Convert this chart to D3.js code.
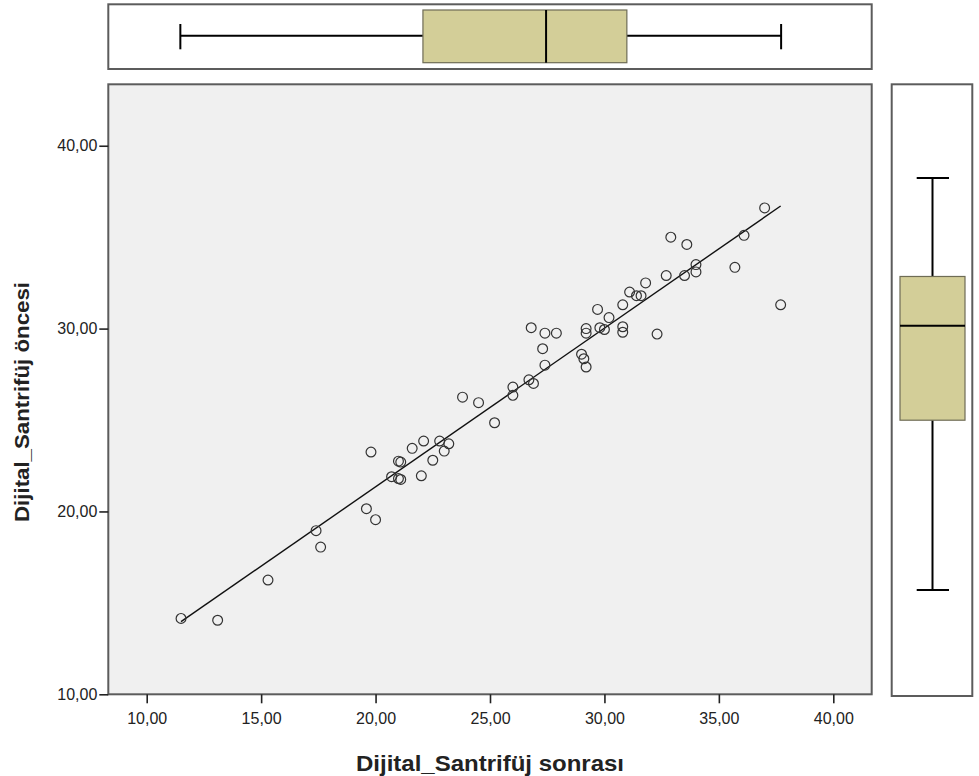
<!DOCTYPE html>
<html>
<head>
<meta charset="utf-8">
<script src="https://cdn.jsdelivr.net/npm/d3@7"></script>
<style>
  body { margin: 0; background: #fff; }
  text { font-family: "Liberation Sans", Arial, sans-serif; fill: #222; }
</style>
</head>
<body>
<svg width="979" height="776"></svg>
<script>
// scatter values
var sonrasi = [37.0, 36.1, 32.9, 33.6, 34.0, 34.0, 33.5, 32.7, 35.7, 37.7,
  31.8, 31.1, 31.4, 31.6, 30.8, 29.7, 30.2, 29.8, 30.0, 29.2,
  29.2, 30.8, 30.8, 32.3, 26.8, 27.4, 27.9, 27.3, 27.4, 29.0,
  29.1, 29.2, 26.7, 26.9, 26.0, 26.0, 11.5, 13.1, 15.3, 17.4,
  17.6, 19.6, 20.0, 19.8, 20.7, 21.0, 21.1, 21.0, 21.1, 21.6,
  22.1, 22.0, 22.5, 22.8, 23.0, 23.2, 23.8, 24.5, 25.2];
var oncesi = [36.6, 35.1, 35.0, 34.6, 33.5, 33.1, 32.9, 32.9, 33.35, 31.3,
  32.5, 32.0, 31.8, 31.8, 31.3, 31.05, 30.6, 30.05, 29.95, 30.0,
  29.75, 30.1, 29.8, 29.7, 30.05, 29.75, 29.75, 28.9, 28.0, 28.6,
  28.35, 27.9, 27.2, 27.0, 26.8, 26.35, 14.15, 14.05, 16.25, 18.95,
  18.05, 20.15, 19.55, 23.25, 21.9, 21.8, 21.75, 22.75, 22.7, 23.45,
  23.85, 21.95, 22.8, 23.85, 23.3, 23.7, 26.25, 25.95, 24.85];

// box plot stats as drawn: [low whisker, q1, median, q3, high whisker]
var boxTop = [11.47, 22.07, 27.45, 30.98, 37.72];
var boxRight = [15.70, 24.99, 30.15, 32.85, 38.23];

var xTicks = [10, 15, 20, 25, 30, 35, 40];
var yTicks = [10, 20, 30, 40];
var xTitle = "Dijital_Santrifüj sonrası";
var yTitle = "Dijital_Santrifüj öncesi";

var svg = d3.select("svg");
var plot = {left: 108.3, right: 871.7, top: 84.3, bottom: 694.3};

var x = d3.scaleLinear().domain([8.322, 41.678]).range([plot.left, plot.right]);
var y = d3.scaleLinear().domain([10, 43.36]).range([plot.bottom, plot.top]);
var fmt = function(d) { return d3.format(".2f")(d).replace(".", ","); };

var frameColor = "#5c5c5c";
var boxFill = "#d3ce98";

// main panel
svg.append("rect")
  .attr("x", plot.left).attr("y", plot.top)
  .attr("width", plot.right - plot.left).attr("height", plot.bottom - plot.top)
  .attr("fill", "#f0f0f0").attr("stroke", frameColor).attr("stroke-width", 2);

var xAxis = svg.append("g")
  .attr("transform", "translate(0," + plot.bottom + ")")
  .call(d3.axisBottom(x).tickValues(xTicks).tickFormat(fmt).tickSize(9).tickPadding(9));
var yAxis = svg.append("g")
  .attr("transform", "translate(" + plot.left + ",0)")
  .call(d3.axisLeft(y).tickValues(yTicks).tickFormat(fmt).tickSize(9).tickPadding(2));
[xAxis, yAxis].forEach(function(a) {
  a.attr("font-size", null);
  a.select(".domain").remove();
  a.selectAll(".tick line").attr("stroke", "#222").attr("stroke-width", 1.6);
  a.selectAll(".tick text").style("font-size", "16px").attr("fill", "#333");
});

svg.append("text")
  .attr("x", (plot.left + plot.right) / 2).attr("y", 771)
  .attr("text-anchor", "middle")
  .attr("textLength", 268).attr("lengthAdjust", "spacingAndGlyphs")
  .style("font-size", "22px").style("font-weight", "bold")
  .text(xTitle);
svg.append("text")
  .attr("transform", "translate(29,402) rotate(-90)")
  .attr("text-anchor", "middle")
  .attr("textLength", 240).attr("lengthAdjust", "spacingAndGlyphs")
  .style("font-size", "21px").style("font-weight", "bold")
  .text(yTitle);

// fit line (least squares from the points)
var pts = sonrasi.map(function(v, i) { return {x: v, y: oncesi[i]}; });
var mx = d3.mean(sonrasi), my = d3.mean(oncesi);
var slope = d3.sum(pts, function(p) { return (p.x - mx) * (p.y - my); }) /
            d3.sum(pts, function(p) { return (p.x - mx) * (p.x - mx); });
var icpt = my - slope * mx;
var ext = d3.extent(sonrasi);
svg.append("path")
  .datum(ext.map(function(v) { return {x: v, y: icpt + slope * v}; }))
  .attr("d", d3.line().x(function(d) { return x(d.x); }).y(function(d) { return y(d.y); }))
  .attr("stroke", "#111").attr("stroke-width", 1.4).attr("fill", "none");

svg.append("g").selectAll("circle")
  .data(pts)
  .enter().append("circle")
  .attr("cx", function(d) { return x(d.x); })
  .attr("cy", function(d) { return y(d.y); })
  .attr("r", 4.9)
  .attr("fill", "none").attr("stroke", "#333").attr("stroke-width", 1.2);

// top box plot (horizontal)
var topPanel = {y0: 4.3, y1: 69, boxY0: 10, boxY1: 62.7};
var midT = 35.7;
svg.append("rect")
  .attr("x", plot.left).attr("y", topPanel.y0)
  .attr("width", plot.right - plot.left).attr("height", topPanel.y1 - topPanel.y0)
  .attr("fill", "#fff").attr("stroke", frameColor).attr("stroke-width", 2);
var gt = svg.append("g");
gt.append("line").attr("x1", x(boxTop[0])).attr("x2", x(boxTop[1])).attr("y1", midT).attr("y2", midT);
gt.append("line").attr("x1", x(boxTop[3])).attr("x2", x(boxTop[4])).attr("y1", midT).attr("y2", midT);
gt.append("line").attr("x1", x(boxTop[0])).attr("x2", x(boxTop[0])).attr("y1", 24).attr("y2", 49.3);
gt.append("line").attr("x1", x(boxTop[4])).attr("x2", x(boxTop[4])).attr("y1", 24).attr("y2", 49.3);
gt.append("rect")
  .attr("x", x(boxTop[1])).attr("y", topPanel.boxY0)
  .attr("width", x(boxTop[3]) - x(boxTop[1])).attr("height", topPanel.boxY1 - topPanel.boxY0)
  .attr("fill", boxFill).attr("stroke", "#6e6c55").attr("stroke-width", 1.2);
gt.append("line").attr("x1", x(boxTop[2])).attr("x2", x(boxTop[2])).attr("y1", topPanel.boxY0).attr("y2", topPanel.boxY1);
gt.selectAll("line").attr("stroke", "#000").attr("stroke-width", 2);

// right box plot (vertical)
var side = {x0: 891.7, x1: 972.3, boxX0: 900, boxX1: 965};
var midR = 932.5;
svg.append("rect")
  .attr("x", side.x0).attr("y", plot.top)
  .attr("width", side.x1 - side.x0).attr("height", 696 - plot.top)
  .attr("fill", "#fff").attr("stroke", frameColor).attr("stroke-width", 2);
var gr = svg.append("g");
gr.append("line").attr("x1", midR).attr("x2", midR).attr("y1", y(boxRight[0])).attr("y2", y(boxRight[1]));
gr.append("line").attr("x1", midR).attr("x2", midR).attr("y1", y(boxRight[3])).attr("y2", y(boxRight[4]));
gr.append("line").attr("x1", 916.7).attr("x2", 949).attr("y1", y(boxRight[0])).attr("y2", y(boxRight[0]));
gr.append("line").attr("x1", 916.7).attr("x2", 949).attr("y1", y(boxRight[4])).attr("y2", y(boxRight[4]));
gr.append("rect")
  .attr("x", side.boxX0).attr("y", y(boxRight[3]))
  .attr("width", side.boxX1 - side.boxX0).attr("height", y(boxRight[1]) - y(boxRight[3]))
  .attr("fill", boxFill).attr("stroke", "#6e6c55").attr("stroke-width", 1.2);
gr.append("line").attr("x1", side.boxX0).attr("x2", side.boxX1).attr("y1", y(boxRight[2])).attr("y2", y(boxRight[2]));
gr.selectAll("line").attr("stroke", "#000").attr("stroke-width", 2);
</script>
</body>
</html>
